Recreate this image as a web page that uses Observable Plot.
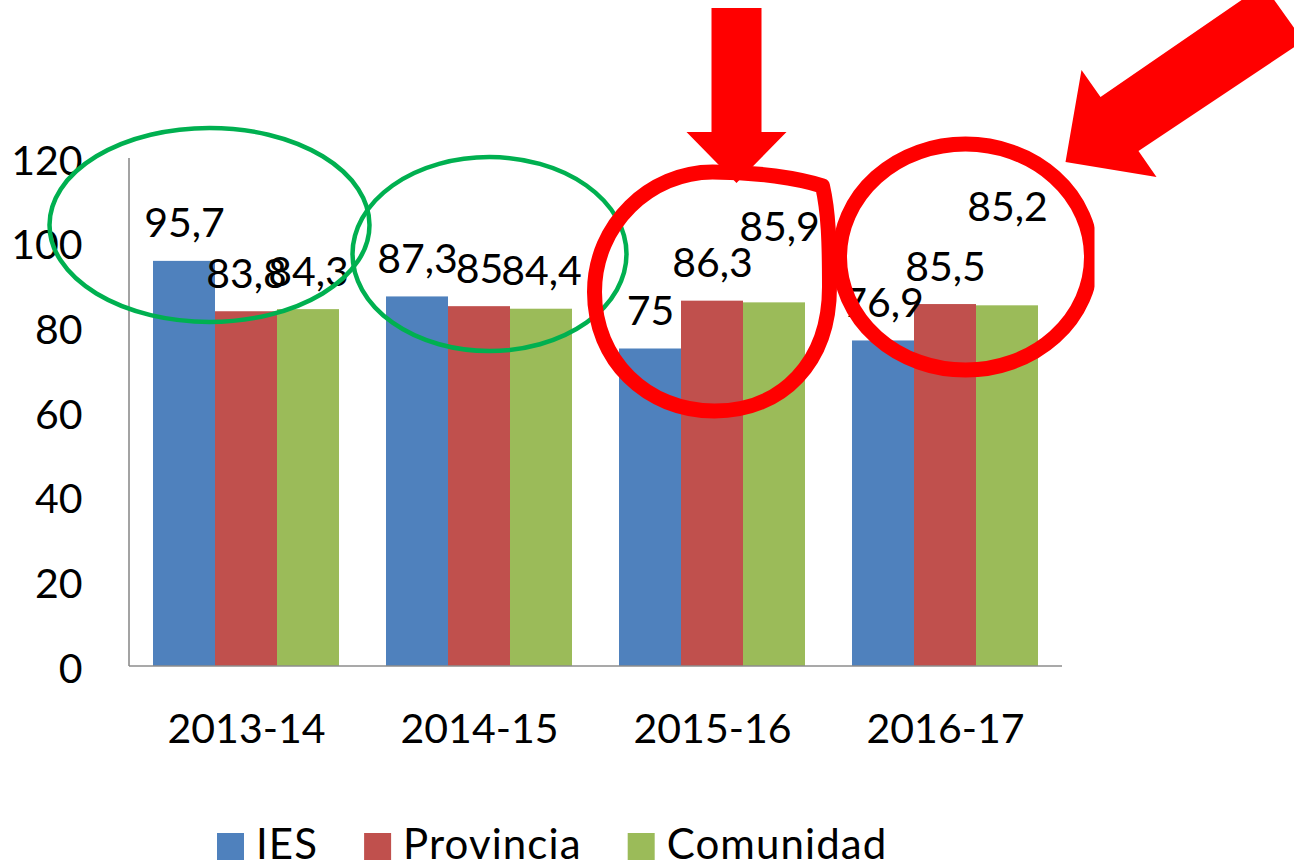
<!DOCTYPE html>
<html>
<head>
<meta charset="utf-8">
<script src="https://cdn.jsdelivr.net/npm/d3@7"></script>
<script src="https://cdn.jsdelivr.net/npm/@observablehq/plot@0.6"></script>
<style>
  html, body { margin: 0; padding: 0; background: #fff; }
  #wrap { width: 1294px; height: 864px; overflow: hidden; position: relative; }
  svg { display: block; }
</style>
</head>
<body>
<div id="wrap"></div>
<script>
// ---------- data ----------
const categories = ["2013-14", "2014-15", "2015-16", "2016-17"];
const series = ["IES", "Provincia", "Comunidad"];
const iesValues = [95.7, 87.3, 75, 76.9];
const provinciaValues = [83.8, 85, 86.3, 85.5];
const comunidadValues = [84.3, 84.4, 85.9, 85.2];
const yTicks = [0, 20, 40, 60, 80, 100, 120];
const colors = ["#4f81bd", "#c0504d", "#9bbb59"];

const seriesValues = [iesValues, provinciaValues, comunidadValues];
const data = categories.flatMap((cat, i) =>
  series.map((serie, s) => ({ cat, serie, value: seriesValues[s][i] }))
);

// ---------- style ----------
const FONT = "Lato, 'Open Sans', 'Noto Sans', sans-serif";
const fmt = v => String(v).replace(".", ",");
const key = d => d.cat + "|" + d.serie;
const baseDy = -37;
// labels that were dragged upward in the original chart
const labelNudges = new Map([
  ["2015-16|Comunidad", { dx: 5, dy: -38 }],
  ["2016-17|Comunidad", { dx: 0, dy: -61 }]
]);

const textOpts = { fx: "cat", x: "serie", y: "value", text: d => fmt(d.value), fill: "#000", fontSize: 41 };

const chart = Plot.plot({
  width: 1294,
  height: 800,
  marginLeft: 130,
  marginRight: 232,
  marginTop: 158,
  marginBottom: 134,
  style: { fontFamily: FONT, fontSize: "41px", color: "#000", background: "#fff" },
  fx: { domain: categories, paddingInner: 0.2, paddingOuter: 0.1, label: null },
  x: { domain: series, padding: 0, axis: null },
  y: { domain: [0, 120], label: null },
  color: { domain: series, range: colors },
  marks: [
    Plot.barY(data, { fx: "cat", x: "serie", y: "value", fill: "serie" }),
    Plot.text(data.filter(d => !labelNudges.has(key(d))), { ...textOpts, dy: baseDy }),
    ...[...labelNudges].map(([k, n]) =>
      Plot.text(data.filter(d => key(d) === k), { ...textOpts, dx: n.dx, dy: baseDy + n.dy })
    ),
    Plot.axisY(yTicks, { tickSize: 0, tickPadding: 71, dy: 3, label: null, fontSize: 41 }),
    Plot.axisFx({ anchor: "bottom", tickSize: 0, tickPadding: 47, label: null, fontSize: 41 })
  ]
});

document.getElementById("wrap").appendChild(chart);

// ---------- axis lines & annotations (positioned through the plot's scales) ----------
const svg = d3.select(chart);
const fxS = chart.scale("fx");
const yS = chart.scale("y");
const bandCenter = c => fxS.apply(c) + fxS.bandwidth / 2;
const [xa, xb] = fxS.range;

const axisG = svg.append("g").attr("stroke", "#8c8c8c").attr("stroke-width", 1.6);
axisG.append("line").attr("x1", xa - 1).attr("x2", xb).attr("y1", yS.apply(0)).attr("y2", yS.apply(0));
axisG.append("line").attr("x1", xa - 1).attr("x2", xa - 1).attr("y1", yS.apply(0)).attr("y2", yS.apply(120));

const ann = svg.append("g").attr("fill", "none");

// green ellipses
const greenEllipses = [
  { cat: "2013-14", dx: -36.5, v: 104.2, rx: 160, ry: 97 },
  { cat: "2014-15", dx: 10.5, v: 97.3, rx: 137, ry: 97 }
];
greenEllipses.forEach(e => {
  ann.append("ellipse")
    .attr("cx", bandCenter(e.cat) + e.dx).attr("cy", yS.apply(e.v))
    .attr("rx", e.rx).attr("ry", e.ry)
    .attr("stroke", "#00b050").attr("stroke-width", 4.5);
});

// red hand-drawn ring around 2015-16
{
  const cx = bandCenter("2015-16") + 0.5, cy = yS.apply(88.35);
  const p = "M -118,0 C -118,-68 -62,-120 0,-120 C 45,-120 85,-114 110,-106 C 116,-80 117,-50 117,-5 C 117,70 70,119 2,119 C -66,119 -118,68 -118,0 Z";
  ann.append("path").attr("d", p).attr("transform", `translate(${cx},${cy})`)
    .attr("stroke", "#ff0000").attr("stroke-width", 15).attr("stroke-linejoin", "round");
}

// red ring around 2016-17 (clipped on its right side)
{
  const cx = bandCenter("2016-17") + 20.5, cy = yS.apply(96.6);
  const defs = svg.append("defs");
  defs.append("clipPath").attr("id", "clipRing").append("rect")
    .attr("x", 0).attr("y", 0).attr("width", cx + 129).attr("height", 800);
  ann.append("ellipse").attr("cx", cx).attr("cy", cy).attr("rx", 126).attr("ry", 113)
    .attr("clip-path", "url(#clipRing)")
    .attr("stroke", "#ff0000").attr("stroke-width", 15);
}

// red arrows
{
  const tx = bandCenter("2015-16") + 24.5, ty = yS.apply(114.1);
  const pts = [[0, 0], [-50, -51], [-25, -51], [-25, -175], [25, -175], [25, -51], [50, -51]];
  ann.append("polygon").attr("points", pts.map(([a, b]) => `${tx + a},${ty + b}`).join(" "))
    .attr("fill", "#ff0000");
}
{
  const tx = bandCenter("2016-17") + 120.5, ty = yS.apply(119.06);
  const pts = [[0, 0], [16, -92], [35, -65], [198, -177], [238, -121], [73, -11], [91, 15]];
  ann.append("polygon").attr("points", pts.map(([a, b]) => `${tx + a},${ty + b}`).join(" "))
    .attr("fill", "#ff0000");
}

// ---------- legend (below the plot) ----------
const legend = d3.select("#wrap").append("svg")
  .attr("width", 1294).attr("height", 64)
  .style("font-family", FONT).style("font-size", "42px").style("letter-spacing", "1.1px");
let lx = 217;
series.forEach((s, i) => {
  legend.append("rect").attr("x", lx).attr("y", 33).attr("width", 27).attr("height", 27).attr("fill", colors[i]);
  const t = legend.append("text").attr("x", lx + 39).attr("y", 59).attr("fill", "#000").text(s);
  const w = t.node().getComputedTextLength();
  lx = lx + 39 + w + 46;
});
</script>
</body>
</html>
